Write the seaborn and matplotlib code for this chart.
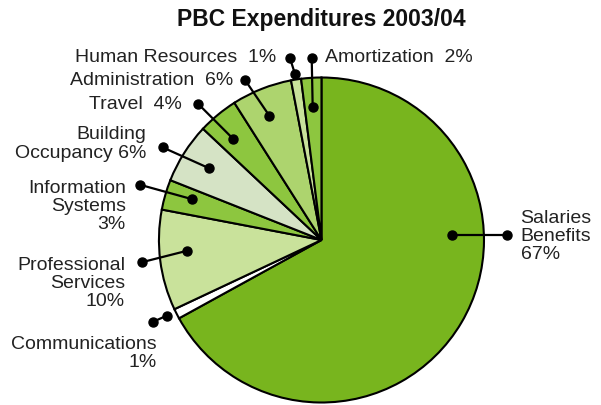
import matplotlib
matplotlib.use("Agg")
import matplotlib.pyplot as plt
import seaborn as sns

# data
categories = ["Salaries\nBenefits", "Communications", "Professional\nServices",
              "Information\nSystems", "Building\nOccupancy", "Travel",
              "Administration", "Human Resources", "Amortization"]
values = [67, 1, 10, 3, 6, 4, 6, 1, 2]
label_sep = ["\n", "\n", "\n", "\n", " ", "  ", "  ", "  ", "  "]

colors = ["#78b51e", "#ffffff", "#c9e29b", "#8dc63f", "#d5e3c5",
          "#8dc63f", "#add46e", "#c9e29b", "#8dc63f"]

# callout layout: inner dot, outer dot, text anchor, horizontal alignment
callouts = [
    ((0.803, 0.031), (1.142, 0.031), (1.225, 0.025), "left"),
    ((-0.953, -0.466), (-1.035, -0.503), (-1.012, -0.695), "right"),
    ((-0.826, -0.066), (-1.106, -0.137), (-1.209, -0.261), "right"),
    ((-0.799, 0.252), (-1.117, 0.340), (-1.203, 0.215), "right"),
    ((-0.690, 0.441), (-0.977, 0.570), (-1.076, 0.597), "right"),
    ((-0.543, 0.622), (-0.758, 0.837), (-0.860, 0.837), "right"),
    ((-0.321, 0.765), (-0.471, 0.986), (-0.545, 0.985), "right"),
    ((-0.163, 1.022), (-0.194, 1.120), (-0.277, 1.132), "right"),
    ((-0.054, 0.817), (-0.060, 1.118), (0.022, 1.132), "left"),
]

sns.set_style("white")
plt.rcParams["font.family"] = ["Liberation Sans", "DejaVu Sans"]

fig = plt.figure(figsize=(6.01, 4.06), dpi=100)
ax = fig.add_axes([0, 0, 1, 1])

palette = sns.color_palette(colors)
ax.pie(values, colors=palette, startangle=90, counterclock=False,
       wedgeprops=dict(edgecolor="black", linewidth=1.5), radius=1.0)

for cat, val, sep, (inner, outer, txt, ha) in zip(categories, values, label_sep, callouts):
    ax.plot([inner[0], outer[0]], [inner[1], outer[1]], color="black", lw=1.6,
            marker="o", markersize=6.5, solid_capstyle="round")
    ax.text(txt[0], txt[1], f"{cat}{sep}{val}%", ha=ha, va="center",
            multialignment=ha, fontsize=14, color="#222222", linespacing=1.08)

ax.set_xlim(-1.978, 1.720)
ax.set_ylim(-1.0154, 1.4831)
ax.set_aspect("auto")
ax.axis("off")

fig.text(0.535, 0.952, "PBC Expenditures 2003/04", ha="center", va="center",
         fontsize=16.5, fontweight="bold", color="#111111")

fig.savefig("out.png", dpi=100)
